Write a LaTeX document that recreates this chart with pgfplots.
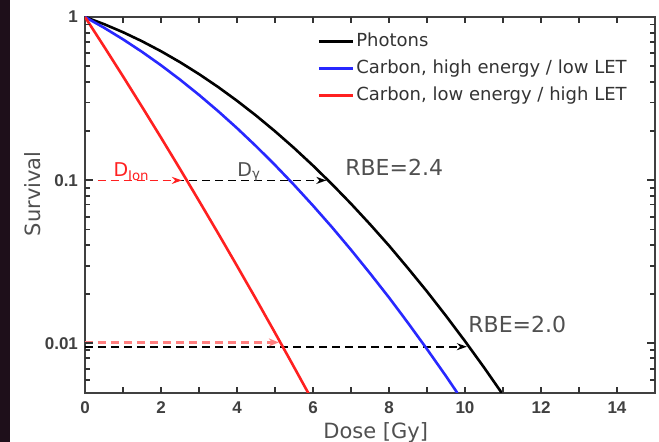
\documentclass[border=0pt]{standalone}
\usepackage{fontspec}
\setmainfont{DejaVu Sans}
\newfontfamily\tickfont{Liberation Sans}
\usepackage{pgfplots}
\pgfplotsset{compat=1.18}
\usetikzlibrary{arrows.meta}

\definecolor{darkbg}{HTML}{1E0F1A}
\definecolor{txtgray}{HTML}{505050}
\definecolor{axgray}{HTML}{404040}
\definecolor{cblue}{HTML}{2828FF}
\definecolor{cred}{HTML}{FF2020}
\definecolor{cpink}{HTML}{FF7F7F}

% survival curves (dose in Gy, surviving fraction)
\pgfplotstableread{
D S
0 1
0.5 0.9046
1 0.8072
1.5 0.7107
2 0.6174
2.5 0.5291
3 0.4474
3.5 0.3733
4 0.3072
4.5 0.2495
5 0.1999
5.5 0.1580
6 0.1232
6.5 0.0948
7 0.0720
7.5 0.0539
8 0.0399
8.5 0.0290
9 0.0209
9.5 0.01482
10 0.01038
10.5 0.00717
11 0.00488
}\photons

\pgfplotstableread{
D S
0 1
0.5 0.860
1 0.7302
1.5 0.6121
2 0.5065
2.5 0.4138
3 0.3337
3.5 0.2657
4 0.2089
4.5 0.1621
5 0.1242
5.5 0.0939
6 0.0701
6.5 0.0517
7 0.0376
7.5 0.0270
8 0.0192
8.5 0.01342
9 0.00928
9.5 0.00634
9.8 0.00500
}\carbonhigh

\pgfplotstableread{
D S
0 1
0.5 0.6605
1 0.4333
1.5 0.2823
2 0.1828
2.5 0.1175
3 0.0750
3.5 0.0476
4 0.0300
4.5 0.01879
5 0.01168
5.5 0.00721
5.9 0.00488
}\carbonlow

\tikzset{tk/.style={draw=black!80, line width=0.9pt}}

\begin{document}
\begin{tikzpicture}
\fill[white] (-42.5pt,-24.5pt) rectangle (287pt,196.5pt);
\fill[darkbg] (-42.5pt,-24.5pt) rectangle (-37.5pt,196.5pt);
\begin{axis}[
    at={(0,0)}, anchor=south west,
    scale only axis, width=285pt, height=188pt,
    xmin=0, xmax=15, ymin=0.005, ymax=1,
    ymode=log,
    xtick={0,2,4,6,8,10,12,14}, xticklabels={0,2,4,6,8,10,12,14},
    ytick={0.01,0.1,1}, yticklabels={0.01,0.1,1},
    major tick length=0pt, minor tick length=0pt,
    tick label style={font=\tickfont\bfseries\fontsize{8.5}{10}\selectfont, text=axgray},
    axis line style={axgray, line width=1pt},
    xlabel={Dose [Gy]}, ylabel={Survival},
    label style={font=\fontsize{10.5}{12}\selectfont, text=txtgray},
    xlabel style={at={(axis description cs:0.51,-0.12)}, anchor=base},
    ylabel style={at={(axis description cs:-0.078,0.53)}, anchor=base},
    xticklabel style={yshift=-1pt},
    legend cell align=left,
    legend style={at={(axis description cs:0.397,0.975)}, anchor=north west,
        draw=none, fill=none, row sep=2.5pt,
        font=\fontsize{9}{10}\selectfont, text=black!80,
        nodes={inner sep=1pt, text height=7pt, text depth=2pt}},
    legend image code/.code={\draw[#1] (0pt,0pt) -- (17pt,0pt);},
]
% dashed construction lines
\addplot[black, line width=0.9pt, dash pattern=on 4pt off 2.5pt,
    -{Stealth[length=5pt,width=3.5pt]}, forget plot] coordinates {(0,0.1) (6.35,0.1)};
\addplot[cred, line width=0.9pt, dash pattern=on 4pt off 2.5pt,
    -{Stealth[length=5pt,width=3.5pt]}, forget plot] coordinates {(0,0.1) (2.55,0.1)};
\addplot[black, line width=0.9pt, dash pattern=on 4pt off 2.5pt,
    -{Stealth[length=5pt,width=3.5pt]}, forget plot] coordinates {(0,0.0096) (10.05,0.0096)};
\addplot[cpink, line width=1.2pt, dash pattern=on 4pt off 2.5pt,
    -{Stealth[length=5pt,width=4pt]}, forget plot] coordinates {(0,0.0102) (5.1,0.0102)};

\addplot[black, line width=1.3pt] table[x=D, y=S] {\photons};
\addlegendentry{Photons}
\addplot[cblue, line width=1.3pt] table[x=D, y=S] {\carbonhigh};
\addlegendentry{Carbon, high energy / low LET}
\addplot[cred, line width=1.3pt] table[x=D, y=S] {\carbonlow};
\addlegendentry{Carbon, low energy / high LET}

\node[cred, anchor=base west, inner sep=0pt, font=\fontsize{9.5}{11}\selectfont]
    at (axis cs:0.74,0.1055) {D\textsubscript{Ion}};
\node[txtgray, anchor=base west, inner sep=0pt, font=\fontsize{9.5}{11}\selectfont]
    at (axis cs:4.0,0.1055) {D\textsubscript{γ}};
\node[txtgray, anchor=west, inner sep=0pt, font=\fontsize{11}{13}\selectfont]
    at (axis cs:6.84,0.12) {RBE=2.4};
\node[txtgray, anchor=west, inner sep=0pt, font=\fontsize{11}{13}\selectfont]
    at (axis cs:10.08,0.0132) {RBE=2.0};
\end{axis}
% tick marks (axis box spans 0..285pt by 0..188pt, 19pt per Gy)
\foreach \xx in {19,38,57,76,95,114,133,152,171,190,209,228,247,266} {
    \draw[tk] (\xx pt,0pt) -- (\xx pt,2.8pt);
    \draw[tk] (\xx pt,188pt) -- (\xx pt,185.2pt);
}
\foreach \v/\len in {0.006/2.5,0.007/2.5,0.008/2.5,0.009/2.5,0.01/4,
    0.02/2.5,0.03/2.5,0.04/2.5,0.05/2.5,0.06/2.5,0.07/2.5,0.08/2.5,0.09/2.5,0.1/4,
    0.2/2.5,0.3/2.5,0.4/2.5,0.5/2.5,0.6/2.5,0.7/2.5,0.8/2.5,0.9/2.5} {
    \pgfmathsetmacro\yy{188*(log10(\v)+2.30103)/2.30103}
    \draw[tk] (0pt,\yy pt) -- ++(\len pt,0pt);
    \draw[tk] (285pt,\yy pt) -- ++(-\len pt,0pt);
}
\pgfresetboundingbox
\useasboundingbox (-42.5pt,-24.5pt) rectangle (287pt,196.5pt);
\end{tikzpicture}
\end{document}
